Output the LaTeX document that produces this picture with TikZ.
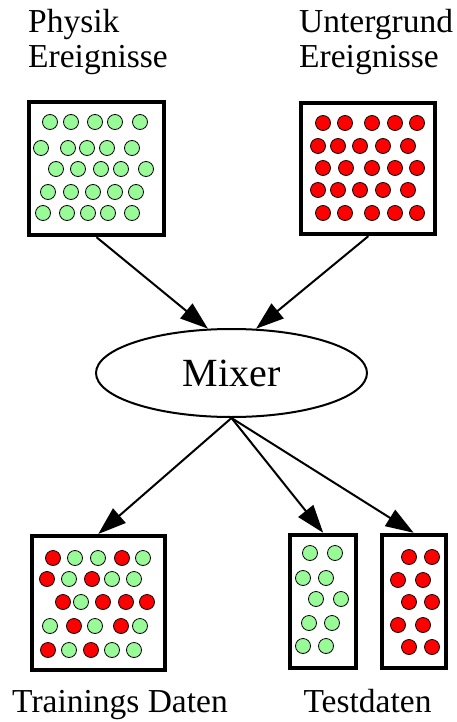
\documentclass[tikz,border=0pt]{standalone}
\usepackage{fontspec}
\setmainfont{Liberation Serif}
\usetikzlibrary{arrows.meta,shapes.geometric}
\definecolor{sigcol}{HTML}{98FB98}
\definecolor{bkgcol}{HTML}{FF0000}
\newcommand{\bigtxt}{\fontsize{33.5}{35}\selectfont}
\tikzset{
  evbox/.style={draw,line width=4pt,inner sep=0pt},
  lbl/.style={font=\bigtxt,align=left,inner sep=0pt},
  arr/.style={line width=2pt,-{Triangle[length=28pt,width=19pt]}},
  sig/.style={fill=sigcol,draw=black,line width=0.8pt},
  bkg/.style={fill=bkgcol,draw=black,line width=0.8pt}
}

\begin{document}
\begin{tikzpicture}[x=1pt,y=-1pt]
     \useasboundingbox (0,0) rectangle (456,722);
     % labels
     \node[lbl,anchor=base west] (physlbl) at ( 28, 68) {Physik\\Ereignisse};
     \node[lbl,anchor=base west] (bkglbl)  at (299, 68) {Untergrund\\Ereignisse};
     \node[lbl,anchor=base]      (trainlbl) at (120,712) {Trainings Daten};
     \node[lbl,anchor=base]      (testlbl)  at (367.5,712) {Testdaten};
     % boxes
     \node[evbox,minimum width=135pt,minimum height=133pt] (phys)    at ( 96.5,168.7) {};
     \node[evbox,minimum width=134pt,minimum height=131pt] (bkg)     at (368.3,168.7) {};
     \node[evbox,minimum width=133pt,minimum height=134pt] (train)   at ( 98.3,603.0) {};
     \node[evbox,minimum width= 66pt,minimum height=133pt] (testsig) at (323.2,601.3) {};
     \node[evbox,minimum width= 64pt,minimum height=133pt] (testbkg) at (413.7,601.3) {};
     % mixer
     \node[ellipse,draw,line width=2pt,minimum width=271pt,minimum height=88pt,
           inner sep=0pt,font=\fontsize{40}{44}\selectfont] (mix) at (231.5,373) {Mixer};
     % arrows
     \draw[arr] (phys.south) -- (mix.118);
     \draw[arr] (bkg.south)  -- (mix.61);
     \draw[arr] (mix.south)  -- (train.north);
     \draw[arr] (mix.south)  -- (testsig.north);
     \draw[arr] (mix.south)  -- (testbkg.north);
     % physics events
     \foreach \x/\y in {50/122,71/122,95/122,115/122,140/122,
                        41/148,68/148,87/148,107/148,132/148,
                        56/169,78/169,101/169,121/169,146/169,
                        48/192,71/192,93/192,115/192,136/192,
                        43/213,67/213,88/213,108/213,132/213}
       \draw[sig] (\x,\y) circle[radius=7.5pt];
     % background events
     \foreach \x/\y in {323/123,345/123,372/123,395/123,417/123,
                        318/146,338/146,360/146,383/146,408/146,
                        323/168,346/168,372/168,395/168,417/168,
                        318/190,338/190,360/190,383/190,408/190,
                        323/213,345/213,372/213,395/213,417/213}
       \draw[bkg] (\x,\y) circle[radius=7.5pt];
     % training data
     \foreach \x/\y in {75/558,98/558,143/558,
                        69/579,112/579,134/579,
                        81/602,
                        50/626,95/626,140/626,
                        69/650,112/650,134/650}
       \draw[sig] (\x,\y) circle[radius=7.5pt];
     \foreach \x/\y in {53/558,122/558,
                        47/579,92/579,
                        63/602,103/602,126/602,147/602,
                        74/626,121/626,
                        48/650,91/650}
       \draw[bkg] (\x,\y) circle[radius=7.5pt];
     % test data
     \foreach \x/\y in {310/553,335/553,303/578,326/578,316/599,
                        341/599,309/623,332/623,303/646,326/646}
       \draw[sig] (\x,\y) circle[radius=7.5pt];
     \foreach \x/\y in {409/557,432/557,398/580,423/580,409/602,
                        432/602,398/625,423/625,409/647,432/647}
       \draw[bkg] (\x,\y) circle[radius=7.5pt];
\end{tikzpicture}
\end{document}
